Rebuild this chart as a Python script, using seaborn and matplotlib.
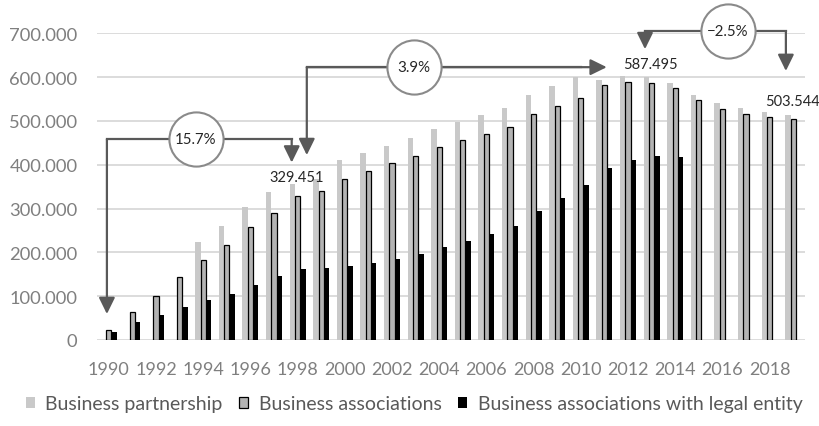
import numpy as np
import pandas as pd
import matplotlib
matplotlib.use("Agg")
import matplotlib.pyplot as plt
import seaborn as sns
from matplotlib.patches import Patch
from matplotlib.ticker import FuncFormatter

# ---------------- data ----------------
years = list(range(1990, 2020))
series_names = ["Business partnership", "Business associations",
                "Business associations with legal entity"]
nan = np.nan
partnership = [nan, nan, nan, nan, 223000, 260000, 303000, 338000, 355000, 366500,
               410600, 426000, 442500, 460000, 480600, 497000, 512500, 530000, 560000, 579000,
               601000, 593000, 603000, 600600, 587700, 560000, 540000, 528500, 520000, 514000]
associations = [23500, 64600, 101000, 144000, 183000, 217000, 257000, 291000, 329451, 340600,
                367000, 385500, 404000, 420000, 440000, 457000, 470600, 486500, 515000, 533000,
                552000, 582000, 589000, 587495, 575000, 548000, 527600, 516000, 508700, 503544]
legal_entity = [17500, 40400, 57700, 74600, 90500, 104000, 125000, 146000, 161000, 163500,
                170000, 176000, 185000, 197000, 213000, 227000, 242000, 261000, 295000, 323000,
                354000, 393000, 410000, 419000, 418000, nan, nan, nan, nan, nan]
growth_labels = ["15.7%", "3.9%", "\u22122.5%"]
highlight_idx = [8, 23, 29]

colors = ["#c9c9c9", "#b3b3b3", "#000000"]
line_c = "#595959"
text_c = "#262626"
tick_c = "#7f7f7f"

year_labels = [str(y) for y in years]
df = pd.DataFrame({
    "year": year_labels * 3,
    "series": sum([[s] * len(years) for s in series_names], []),
    "value": partnership + associations + legal_entity,
}).dropna()

sns.set_style("white")
plt.rcParams["font.family"] = ["Lato", "DejaVu Sans"]

fig = plt.figure(figsize=(8.2, 4.27), dpi=100)
ax = fig.add_axes([97 / 820, 1 - 341 / 427, (805 - 97) / 820, (341 - 34.3) / 427])

sns.barplot(data=df, x="year", y="value", hue="series", order=year_labels,
            hue_order=series_names, palette=colors, width=0.68, dodge=True,
            saturation=1, errorbar=None, legend=False, ax=ax, linewidth=0)

for i, cont in enumerate(ax.containers):
    for bar in cont:
        bar.set_edgecolor("black" if i == 1 else "none")
        bar.set_linewidth(0.9 if i == 1 else 0)

ax.set_xlim(-0.5, len(years) - 0.5)
ax.set_ylim(0, 700000)
ax.set_yticks(range(0, 700001, 100000))
ax.yaxis.set_major_formatter(FuncFormatter(
    lambda v, _: "0" if v == 0 else f"{int(v):,}".replace(",", ".")))
ax.set_xticks(range(0, len(years), 2))
ax.set_xticklabels(year_labels[::2])
ax.tick_params(axis="both", length=0, colors=tick_c)
ax.tick_params(axis="y", pad=14, labelsize=13.2)
ax.tick_params(axis="x", pad=15, labelsize=13)
ax.set_xlabel("")
ax.set_ylabel("")
ax.yaxis.grid(True, color="#d9d9d9", lw=1.3)
ax.set_axisbelow(True)
sns.despine(ax=ax, left=True, bottom=True, right=True, top=True)


def seg(xs, ys):
    ax.plot(xs, ys, color=line_c, lw=1.6, clip_on=False,
            solid_capstyle="projecting", zorder=4)


def arrow(x0, y0, x1, y1):
    ax.annotate("", xy=(x1, y1), xytext=(x0, y0),
                arrowprops=dict(arrowstyle="-|>,head_length=0.55,head_width=0.27",
                                mutation_scale=18, color=line_c, lw=1.6,
                                shrinkA=0, shrinkB=0),
                annotation_clip=False, zorder=4)


def bubble(x, y, text):
    ax.plot([x], [y], marker="o", ms=39, mfc="white", mec="#8a8a8a", mew=1.5,
            clip_on=False, zorder=6)
    ax.text(x, y, text, ha="center", va="center", fontsize=10.8, color=text_c, zorder=7)


# 15.7 %
seg([-0.08, 7.75], [458500, 458500])
arrow(-0.08, 458500, -0.08, 59300)
arrow(7.75, 458500, 7.75, 405000)
bubble(3.69, 458500, growth_labels[0])

# 3.9 %
seg([8.39, 20.0], [622700, 622700])
arrow(8.39, 622700, 8.39, 422000)
arrow(8.39, 622700, 21.1, 622700)
bubble(12.93, 622700, growth_labels[1])

# -2.5 %
seg([22.72, 28.69], [705000, 705000])
arrow(22.72, 705000, 22.72, 663800)
arrow(28.69, 705000, 28.69, 614000)
bubble(26.24, 705000, growth_labels[2])

for i in highlight_idx:
    v = associations[i]
    ax.text(i - 0.03, v + 42000, f"{v:,}".replace(",", "."), ha="center", va="center",
            fontsize=10.5, color=text_c, zorder=7)

handles = [Patch(facecolor=colors[0], edgecolor="none"),
           Patch(facecolor=colors[1], edgecolor="black", linewidth=0.9),
           Patch(facecolor=colors[2], edgecolor="none")]
fig.legend(handles, series_names, loc="center", bbox_to_anchor=(0.505, 1 - 405 / 427),
           ncol=3, frameon=False, fontsize=14, handlelength=0.45, handleheight=0.45,
           handletextpad=0.55, columnspacing=0.85, labelcolor="#595959")

fig.savefig("out.png", dpi=100)
